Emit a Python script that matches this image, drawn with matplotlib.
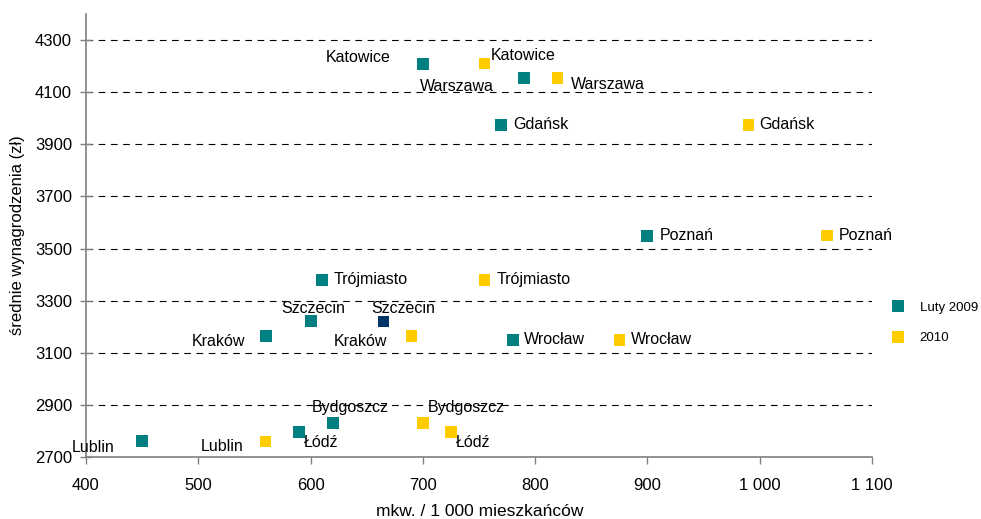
import matplotlib
matplotlib.use("Agg")
import matplotlib.pyplot as plt
from matplotlib.ticker import FuncFormatter
from matplotlib.lines import Line2D

plt.rcParams['font.family'] = ['Liberation Sans', 'DejaVu Sans']

cities = ["Katowice", "Warszawa", "Gdańsk", "Poznań", "Trójmiasto", "Szczecin",
          "Kraków", "Wrocław", "Bydgoszcz", "Łódź", "Lublin"]
x_2009 = [700, 790, 770, 900, 610, 600, 560, 780, 620, 590, 450]
y_2009 = [4210, 4155, 3975, 3550, 3380, 3220, 3165, 3150, 2830, 2795, 2760]
x_2010 = [755, 820, 990, 1060, 755, 665, 690, 875, 700, 725, 560]
y_2010 = [4210, 4155, 3975, 3550, 3380, 3220, 3165, 3150, 2830, 2795, 2760]
series_names = ["Luty 2009", "2010"]
x_ticks = [400, 500, 600, 700, 800, 900, 1000, 1100]
y_ticks = [2700, 2900, 3100, 3300, 3500, 3700, 3900, 4100, 4300]

TEAL = "#008080"
YELLOW = "#FFCC00"
NAVY = "#003366"

# label offsets in pixels (dx, dy, ha)
off_2009 = {
    "Katowice": (-32, 6, "right"),
    "Warszawa": (-30, -9, "right"),
    "Gdańsk": (12, 0, "left"),
    "Poznań": (12, 0, "left"),
    "Trójmiasto": (12, 0, "left"),
    "Szczecin": (3, 13, "center"),
    "Kraków": (-21, -6, "right"),
    "Wrocław": (11, 0, "left"),
    "Bydgoszcz": (17, 16, "center"),
    "Łódź": (22, -10, "center"),
    "Lublin": (-28, -6, "right"),
}
off_2010 = {
    "Katowice": (6, 8, "left"),
    "Warszawa": (13, -7, "left"),
    "Gdańsk": (11, 0, "left"),
    "Poznań": (12, 0, "left"),
    "Trójmiasto": (12, 0, "left"),
    "Szczecin": (20, 13, "center"),
    "Kraków": (-25, -6, "right"),
    "Wrocław": (12, 0, "left"),
    "Bydgoszcz": (43, 16, "center"),
    "Łódź": (22, -10, "center"),
    "Lublin": (-22, -5, "right"),
}

fig = plt.figure(figsize=(9.81, 5.19), dpi=100)
ax = fig.add_axes([86/981, 1-457/519, (872-86)/981, (457-14)/519])

colors_2010 = [NAVY if c == "Szczecin" else YELLOW for c in cities]
ax.scatter(x_2009, y_2009, marker="s", s=70, color=TEAL, zorder=3, linewidths=0)
ax.scatter(x_2010, y_2010, marker="s", s=70, c=colors_2010, zorder=3, linewidths=0)

for name, x, y in zip(cities, x_2009, y_2009):
    dx, dy, ha = off_2009[name]
    ax.annotate(name, (x, y), xytext=(dx, dy), textcoords="offset pixels",
                ha=ha, va="center", fontsize=11.5, color="black", zorder=4)
for name, x, y in zip(cities, x_2010, y_2010):
    dx, dy, ha = off_2010[name]
    ax.annotate(name, (x, y), xytext=(dx, dy), textcoords="offset pixels",
                ha=ha, va="center", fontsize=11.5, color="black", zorder=4)

ax.set_xlim(400, 1100)
ax.set_ylim(2700, 4400)
ax.set_xticks(x_ticks)
ax.set_yticks(y_ticks)
ax.xaxis.set_major_formatter(FuncFormatter(lambda v, p: f"{int(v):,}".replace(",", " ")))
ax.tick_params(axis="both", labelsize=12, color="#808080", width=1)
ax.tick_params(axis="x", direction="out", length=5, pad=10)
ax.tick_params(axis="y", direction="inout", length=8, pad=6)

for yv in y_ticks[1:]:
    ax.axhline(yv, color="black", linestyle=(0, (6, 5)), linewidth=0.8, zorder=1)

for s in ["top", "right"]:
    ax.spines[s].set_visible(False)
for s in ["left", "bottom"]:
    ax.spines[s].set_color("#808080")
    ax.spines[s].set_linewidth(1.2)

ax.set_xlabel("mkw. / 1 000 mieszkańców", fontsize=12.5, va="center")
ax.set_ylabel("średnie wynagrodzenia (zł)", fontsize=12, va="center")
ax.xaxis.set_label_coords((480-86)/786, (457-511)/443)
ax.yaxis.set_label_coords((18-86)/786, (457-235)/443)

handles = [Line2D([], [], marker="s", linestyle="none", markersize=9, color=TEAL, markeredgewidth=0),
           Line2D([], [], marker="s", linestyle="none", markersize=9, color=YELLOW, markeredgewidth=0)]
fig.legend(handles, series_names, loc="center left", bbox_to_anchor=(880/981, 1-323/519),
           frameon=False, fontsize=9.5, handletextpad=1.1, labelspacing=1.35, handlelength=1.0)

fig.savefig("out.png", dpi=100)
